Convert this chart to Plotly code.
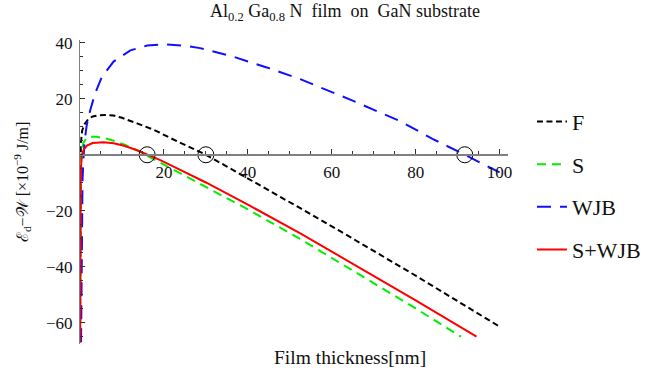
import plotly.graph_objects as go

# ---- data ----
f_x = [0.01, 0.03, 0.08, 0.2, 0.5, 1, 2, 3, 4.5, 6, 8, 10, 13.6, 17.5, 21.5, 25.9, 30, 35, 40, 52.5, 62, 70, 80, 90, 100]
f_y = [-67, -20, -2, 4, 8.5, 10.8, 12.8, 13.7, 14.1, 14.2, 14.0, 13.2, 11.2, 9.0, 6.0, 3.0, 0, -4.2, -8.4, -19.1, -27.3, -34.3, -43.2, -52.3, -61.4]

s_x = [0.02, 0.05, 0.1, 0.2, 0.4, 0.8, 1.5, 2.5, 4, 6, 8, 10.5, 13.6, 16, 19, 22.3, 30, 40, 52.5, 60, 70, 80, 90.8]
s_y = [-67, -30, -12, -3, 1.5, 4.2, 5.8, 6.4, 6.4, 5.9, 5.0, 3.7, 1.6, -0.3, -2.6, -5.3, -11.3, -19.5, -30.1, -36.8, -45.7, -54.9, -65]

wjb_x = [0.25, 0.35, 0.45, 0.6, 0.8, 1.1, 1.6, 2.45, 3.6, 5.2, 8, 12, 16, 20, 25.5, 28.6, 36.6, 44.5, 52.5, 64.4, 76.3, 84, 91.7, 100]
wjb_y = [-67, -35, -20, -9, -2, 5, 10.5, 16, 21.9, 27.8, 33.3, 37.3, 39.0, 39.5, 38.9, 38.1, 35.0, 31.2, 27.0, 19.7, 12.0, 5.7, 0, -6.3]

swjb_x = [0.03, 0.08, 0.15, 0.3, 0.5, 0.86, 1.65, 3, 5.6, 8, 10.5, 13.6, 16, 19, 22.3, 30, 40, 52.5, 60, 70, 80, 94.5]
swjb_y = [-67, -25, -10, -3, 0, 1.8, 3.3, 4.2, 4.5, 4.1, 3.2, 1.6, 0.1, -1.8, -4.2, -9.9, -17.8, -28.1, -34.6, -43.2, -52.0, -65]

cross_x = [16, 30, 91.7]
cross_y = [0, 0, 0]

x_ticks = [20, 40, 60, 80, 100]
y_ticks = [-60, -40, -20, 20, 40]

X_RANGE = [0, 102]
Y_RANGE = [-67.6, 41]

FONT = "Liberation Serif, Times New Roman, DejaVu Serif, serif"

fig = go.Figure()

series = [
    ("F", f_x, f_y, "#000000", "6px,3.5px"),
    ("S", s_x, s_y, "#00ee00", "9px,6px"),
    ("WJB", wjb_x, wjb_y, "#1010ff", "14px,9px"),
    ("S+WJB", swjb_x, swjb_y, "#ff0000", "solid"),
]
for name, xs, ys, col, dash in series:
    fig.add_trace(go.Scatter(
        x=xs, y=ys, mode="lines", name=name, legendgroup=name,
        line=dict(color=col, width=2, dash=dash),
    ))

fig.add_trace(go.Scatter(
    x=cross_x, y=cross_y, mode="markers", showlegend=False,
    marker=dict(symbol="circle-open", size=16, color="#000000", line=dict(width=1, color="#000000")),
))

ypos = (0 - Y_RANGE[0]) / (Y_RANGE[1] - Y_RANGE[0])

fig.update_layout(
    width=646, height=372,
    margin=dict(l=80, r=138, t=40, b=28, autoexpand=False),
    plot_bgcolor="white", paper_bgcolor="white",
    font=dict(family=FONT, color="#111111", size=17),
    xaxis=dict(
        range=X_RANGE, anchor="free", position=ypos,
        showgrid=False, zeroline=False,
        showline=True, linecolor="#808080", linewidth=2,
        tickmode="array", tickvals=x_ticks, ticks="inside", ticklen=5,
        tickcolor="#333333", tickwidth=1,
        minor=dict(dtick=5, ticks="inside", ticklen=3, tickcolor="#333333", tickwidth=1),
        tickfont=dict(family=FONT, size=17, color="#111111"),
        ticklabelstandoff=2,
    ),
    yaxis=dict(
        range=Y_RANGE, showgrid=False, zeroline=False,
        showline=True, linecolor="#808080", linewidth=1.2,
        tickmode="array", tickvals=y_ticks, ticks="inside", ticklen=5,
        tickcolor="#333333", tickwidth=1,
        minor=dict(dtick=5, ticks="inside", ticklen=3, tickcolor="#333333", tickwidth=1),
        tickfont=dict(family=FONT, size=17, color="#111111"),
        ticklabelstandoff=3,
    ),
    legend=dict(
        x=1.056, y=0.80, xanchor="left", yanchor="top",
        font=dict(family=FONT, size=22, color="#111111"),
        tracegroupgap=11, itemwidth=30, bgcolor="rgba(0,0,0,0)",
    ),
    showlegend=True,
)

fig.add_annotation(
    text="Al<sub>0.2</sub> Ga<sub>0.8</sub> N\u00a0 film\u00a0 on\u00a0 GaN substrate",
    xref="paper", yref="paper", x=0.619, y=1.089, showarrow=False,
    xanchor="center", yanchor="middle", font=dict(family=FONT, size=18, color="#111111"),
)
fig.add_annotation(
    text="Film thickness[nm]",
    xref="paper", yref="paper", x=0.631, y=-0.043, showarrow=False,
    xanchor="center", yanchor="middle", font=dict(family=FONT, size=19.5, color="#111111"),
)
fig.add_annotation(
    text="ℰ<sub>d</sub>−𝒲 [×10<sup>−9</sup> J/m]",
    xref="paper", yref="paper", x=-0.1355, y=0.533, showarrow=False, textangle=-90,
    xanchor="center", yanchor="middle", font=dict(family=FONT, size=16, color="#111111"),
)

fig.write_html(
    "out.html",
    config={"displayModeBar": False},
    post_script="document.body.style.margin='0';document.body.style.overflow='hidden';",
)
